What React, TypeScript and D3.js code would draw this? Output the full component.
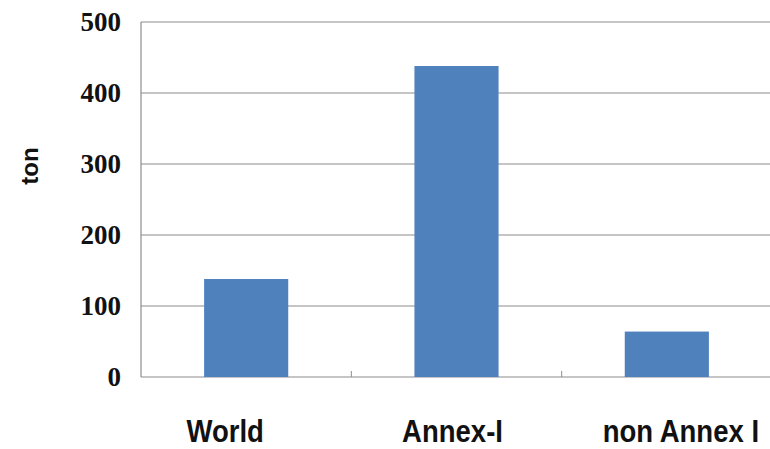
import React from "react";
import * as d3 from "d3";

const categories = ["World", "Annex-I", "non Annex I"];
const values = [138, 438, 64];
const yTicks = [0, 100, 200, 300, 400, 500];
const yLabel = "ton";

const W = 770;
const H = 449;
const M = { left: 141, right: -2, top: 22, bottom: 72 };
const labelDx = [-21, -4, 14];

export default function App() {
  const x = d3
    .scaleBand<string>()
    .domain(categories)
    .range([M.left, W - M.right])
    .paddingInner(0.6)
    .paddingOuter(0.3);
  const band = d3.scaleBand<string>().domain(categories).range([M.left, W - M.right]);
  const y = d3.scaleLinear().domain([0, 500]).range([H - M.bottom, M.top]);
  const gridColor = "#8c8c8c";
  return (
    <svg
      width={W}
      height={H}
      style={{ position: "absolute", left: 0, top: 0, background: "#fff" }}
    >
      {yTicks.map((t) => (
        <g key={t}>
          <line x1={M.left} x2={W} y1={y(t)} y2={y(t)} stroke={gridColor} strokeWidth={1.2} />
          <text
            x={121}
            y={y(t)}
            dy="0.35em"
            textAnchor="end"
            fontFamily="Liberation Serif"
            fontWeight="bold"
            fontSize={27}
            fill="#111"
          >
            {t}
          </text>
        </g>
      ))}
      <line x1={M.left} x2={M.left} y1={y(500)} y2={y(0)} stroke={gridColor} strokeWidth={1.2} />
      {categories.slice(1).map((c) => (
        <line
          key={c}
          x1={band(c)}
          x2={band(c)}
          y1={y(0) - 6}
          y2={y(0)}
          stroke={gridColor}
          strokeWidth={1}
        />
      ))}
      {categories.map((c, i) => (
        <rect
          key={c}
          x={x(c)}
          y={y(values[i])}
          width={x.bandwidth()}
          height={y(0) - y(values[i])}
          fill="#4f81bd"
        />
      ))}
      {categories.map((c, i) => {
        const cx = (band(c) as number) + band.bandwidth() / 2 + labelDx[i];
        return (
          <text
            key={c}
            transform={`translate(${cx},442) scale(0.86,1)`}
            textAnchor="middle"
            fontFamily="Liberation Sans"
            fontWeight="bold"
            fontSize={32}
            fill="#111"
          >
            {c}
          </text>
        );
      })}
      <text
        transform="translate(38,166) rotate(-90)"
        textAnchor="middle"
        fontFamily="Liberation Sans"
        fontWeight="bold"
        fontSize={24}
        fill="#111"
      >
        {yLabel}
      </text>
    </svg>
  );
}
